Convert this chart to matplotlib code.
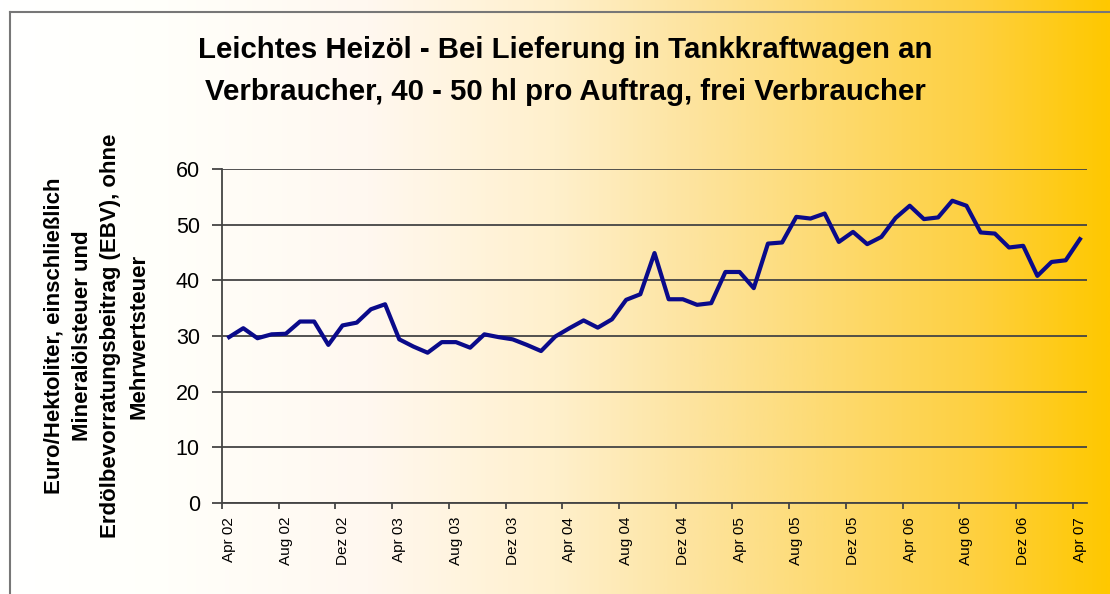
#plot Heizöl price chart (Apr 02 - Apr 07)
import numpy as np
import matplotlib
matplotlib.use('Agg')
import matplotlib.pyplot as plt
from matplotlib.colors import LinearSegmentedColormap
from matplotlib.lines import Line2D

plt.rcParams['font.family'] = ['Liberation Sans', 'DejaVu Sans']

# monthly values Apr 02 .. Apr 07, Euro/hl
prices = [29.8, 31.4, 29.6, 30.3, 30.4, 32.6, 32.6, 28.4, 31.9, 32.4, 34.8, 35.7,
          29.4, 28.1, 27.0, 28.9, 28.9, 27.9, 30.3, 29.8, 29.4, 28.4, 27.3, 29.9,
          31.4, 32.8, 31.5, 33.0, 36.5, 37.5, 44.9, 36.6, 36.6, 35.6, 35.9, 41.5,
          41.5, 38.6, 46.6, 46.8, 51.4, 51.1, 52.0, 46.9, 48.7, 46.5, 47.8, 51.2,
          53.4, 51.0, 51.3, 54.3, 53.4, 48.6, 48.4, 45.9, 46.2, 40.8, 43.3, 43.6,
          47.4]
# label every 4th month
tick_idx = list(range(0, 61, 4))
tick_labels = ['Apr 02', 'Aug 02', 'Dez 02', 'Apr 03', 'Aug 03', 'Dez 03', 'Apr 04', 'Aug 04',
               'Dez 04', 'Apr 05', 'Aug 05', 'Dez 05', 'Apr 06', 'Aug 06', 'Dez 06', 'Apr 07']

title = 'Leichtes Heizöl - Bei Lieferung in Tankkraftwagen an\nVerbraucher, 40 - 50 hl pro Auftrag, frei Verbraucher'
ylabel = ('Euro/Hektoliter, einschließlich\nMineralölsteuer und\n'
          'Erdölbevorratungsbeitrag (EBV), ohne\nMehrwertsteuer')

fig = plt.figure(figsize=(11.1, 5.94), dpi=100)

# background gradient white -> gold
bg = fig.add_axes([0, 0, 1, 1], zorder=0)
cmap = LinearSegmentedColormap.from_list('gold', [
    (0.0, '#ffffff'), (0.15, '#fffffa'), (0.33, '#fff8f0'), (0.5, '#fff0cc'),
    (0.62, '#fde4a0'), (0.75, '#fdda70'), (0.88, '#fed040'), (1.0, '#ffc800')])
grad = np.linspace(0, 1, 512).reshape(1, -1)
bg.imshow(grad, aspect='auto', cmap=cmap, extent=[0, 1, 0, 1])
bg.set_xlim(0, 1)
bg.set_ylim(0, 1)
bg.axis('off')
# frame lines left and top
fig.add_artist(Line2D([10/1110, 10/1110], [0, 1 - 12/594], color='#777777', lw=1.5, transform=fig.transFigure))
fig.add_artist(Line2D([10/1110, 1], [1 - 12/594, 1 - 12/594], color='#777777', lw=1.5, transform=fig.transFigure))

ax = fig.add_axes([222/1110, 1 - 503/594, (1087 - 222)/1110, (503 - 169)/594], zorder=1)
ax.patch.set_alpha(0)
x = np.arange(len(prices))
ax.plot(x, prices, color='#0a0a8a', lw=3, solid_joinstyle='round', zorder=3)

ax.set_xlim(-0.5, len(prices) - 0.5)
ax.set_ylim(0, 60)
ax.set_yticks(range(0, 61, 10))
ax.yaxis.grid(True, color='#444444', lw=1.3)
ax.set_axisbelow(True)
for s in ['top', 'right']:
    ax.spines[s].set_visible(False)
for s in ['left', 'bottom']:
    ax.spines[s].set_color('#444444')
    ax.spines[s].set_linewidth(1.3)

# ticks on category boundaries, labels on categories
ax.set_xticks([i - 0.5 for i in tick_idx])
ax.set_xticklabels([])
ax.set_xticks(tick_idx, minor=True)
ax.set_xticklabels(tick_labels, minor=True, rotation=90, fontsize=11)
ax.tick_params(axis='x', which='major', length=4, width=1.3, color='#444444')
ax.tick_params(axis='x', which='minor', length=0, pad=10)
ax.tick_params(axis='y', length=7, width=1.3, color='#444444', labelsize=15.5, pad=9)

ax.set_ylabel(ylabel, fontsize=16, fontweight='bold', linespacing=1.45, labelpad=19)
fig.text(565/1110, 1 - 71/594, title, ha='center', va='center', fontsize=21.2,
         fontweight='bold', linespacing=1.6)

fig.savefig('out.png', dpi=100)
